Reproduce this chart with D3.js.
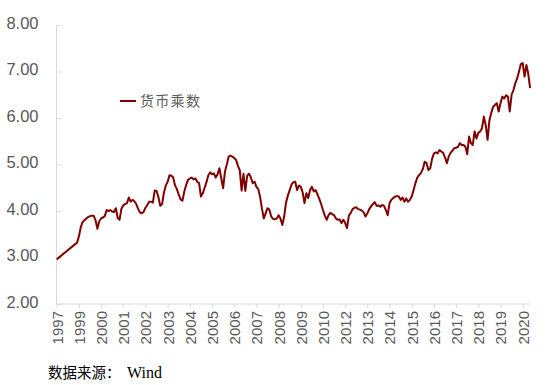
<!DOCTYPE html>
<html>
<head>
<meta charset="utf-8">
<script src="https://cdn.jsdelivr.net/npm/d3@7/dist/d3.min.js"></script>
<style>
  html, body { margin: 0; padding: 0; background: #ffffff; }
  svg { display: block; }
</style>
</head>
<body>
<svg id="chart" width="546" height="385"></svg>
<script>
// ---- data ----
const seriesName = "货币乘数";
const sourceLabel = "数据来源：";
const sourceName = "Wind";
const tickLabels = ["1997","1999","2000","2001","2002","2003","2004","2005","2006","2007","2008",
                    "2009","2010","2012","2013","2014","2015","2016","2017","2018","2019","2020"];
const yTicks = [2, 3, 4, 5, 6, 7, 8];
// monthly observations (null = missing, connected over like the original)
const multiplier = [
2.96,null,null,null,null,null,null,null,null,null,null,3.32,
3.45,3.65,3.76,3.80,3.84,3.87,3.89,3.90,3.90,3.80,3.62,3.78,
3.84,3.86,3.89,4.02,4.00,4.02,3.99,3.98,4.06,3.85,3.81,4.05,
4.12,4.15,4.17,4.29,4.20,4.24,4.21,4.15,4.05,3.97,3.95,3.98,
4.07,4.13,4.20,4.20,4.18,4.44,4.43,4.30,4.11,4.15,4.40,4.55,
4.63,4.77,4.76,4.72,4.55,4.47,4.35,4.25,4.22,4.42,4.56,4.67,
4.70,4.72,4.68,4.70,4.63,4.60,4.31,4.38,4.50,4.62,4.77,4.83,
4.79,4.81,4.72,4.79,4.92,4.70,4.49,4.85,5.00,5.17,5.19,5.17,
5.14,5.10,4.97,4.88,4.44,4.80,4.43,4.76,4.80,4.72,4.60,4.63,
4.52,4.47,4.30,4.05,3.84,3.95,4.06,4.03,3.88,3.83,3.82,3.84,
3.91,3.84,3.70,3.88,4.18,4.33,4.45,4.57,4.62,4.63,4.45,4.55,
4.52,4.40,4.17,4.38,4.28,4.45,4.52,4.42,4.45,4.36,4.26,4.15,
4.02,3.90,3.81,3.91,3.96,3.93,3.91,3.84,3.81,3.82,3.74,3.81,
3.74,3.63,3.90,3.96,4.04,4.07,4.08,4.04,4.03,4.01,3.97,3.88,
3.95,4.04,4.10,4.15,4.19,4.11,4.12,4.09,4.13,4.11,4.02,3.91,
4.17,4.24,4.28,4.31,4.32,4.31,4.24,4.29,4.20,4.27,4.20,4.24,
4.31,4.45,4.60,4.72,4.77,4.82,4.90,5.06,5.03,4.88,4.92,5.12,
5.24,5.26,5.24,5.31,5.28,5.25,5.15,5.03,5.17,5.25,5.30,5.35,
5.36,5.38,5.46,5.42,5.42,5.38,5.22,5.60,5.46,5.42,5.71,5.56,
5.68,5.71,5.78,6.03,5.85,5.53,5.95,6.11,6.24,6.28,6.32,6.14,
6.32,6.46,6.42,6.49,6.46,6.14,6.50,6.60,6.75,6.85,7.00,7.16,
7.18,6.89,7.14,6.95,6.64
];
const monthsPerTick = 12;

// ---- layout ----
const svg = d3.select("#chart");
const plotLeft = 56.5, plotRight = 530, plotTop = 25, plotBottom = 304;
const axisColor = "#d9d9d9", textColor = "#595959", lineColor = "#800000";

const x = d3.scaleLinear()
  .domain([0, (tickLabels.length - 1) * monthsPerTick])
  .range([56.7, 522.7]);
const y = d3.scaleLinear().domain([2, 8]).range([plotBottom, plotTop]);

// y axis
const yAxis = svg.append("g").attr("transform", `translate(${plotLeft},0)`)
  .call(d3.axisRight(y).tickValues(yTicks).tickSize(5).tickFormat(d3.format(".2f")));
yAxis.select(".domain").attr("stroke", axisColor).attr("d", `M0,${plotTop}V${plotBottom}`);
yAxis.selectAll(".tick line").attr("stroke", axisColor);
yAxis.selectAll(".tick text")
  .attr("x", -18).attr("dy", "0.2em").attr("text-anchor", "end")
  .attr("font-family", "Liberation Sans, Arial, sans-serif")
  .attr("font-size", 16.5).attr("fill", textColor);

// x axis
const tickIdx = tickLabels.map((d, i) => i * monthsPerTick);
const xAxis = svg.append("g").attr("transform", `translate(0,${plotBottom})`)
  .call(d3.axisBottom(x).tickValues(tickIdx).tickSize(4)
    .tickFormat((d, i) => tickLabels[i]));
xAxis.select(".domain").attr("stroke", axisColor).attr("d", `M${plotLeft},0H${plotRight}`);
xAxis.selectAll(".tick line").attr("stroke", axisColor);
xAxis.selectAll(".tick text")
  .attr("transform", "rotate(-90)")
  .attr("x", -7).attr("y", 0).attr("dy", "0.36em")
  .attr("text-anchor", "end")
  .attr("font-family", "Liberation Sans, Arial, sans-serif")
  .attr("font-size", 15).attr("fill", textColor);

// line
const pts = multiplier.map((v, i) => ({i, v})).filter(d => d.v !== null);
svg.append("path")
  .datum(pts)
  .attr("fill", "none")
  .attr("stroke", lineColor)
  .attr("stroke-width", 2)
  .attr("stroke-linejoin", "round")
  .attr("d", d3.line().x(d => x(d.i)).y(d => y(d.v)));

// legend
svg.append("line").attr("x1", 120).attr("x2", 136).attr("y1", 101).attr("y2", 101)
  .attr("stroke", lineColor).attr("stroke-width", 2);
svg.append("text").attr("x", 140).attr("y", 106)
  .attr("font-family", "Noto Sans CJK SC, sans-serif").attr("font-size", 14)
  .attr("letter-spacing", 1.3).attr("fill", textColor).text(seriesName);

// source
const src = svg.append("text").attr("x", 48).attr("y", 378)
  .attr("font-family", "Noto Sans CJK SC, sans-serif").attr("font-size", 14.5).attr("fill", "#000");
src.append("tspan").text(sourceLabel);
src.append("tspan").attr("x", 127)
  .attr("font-family", "Liberation Serif, Times New Roman, serif").attr("font-size", 16)
  .text(sourceName);
</script>
</body>
</html>
